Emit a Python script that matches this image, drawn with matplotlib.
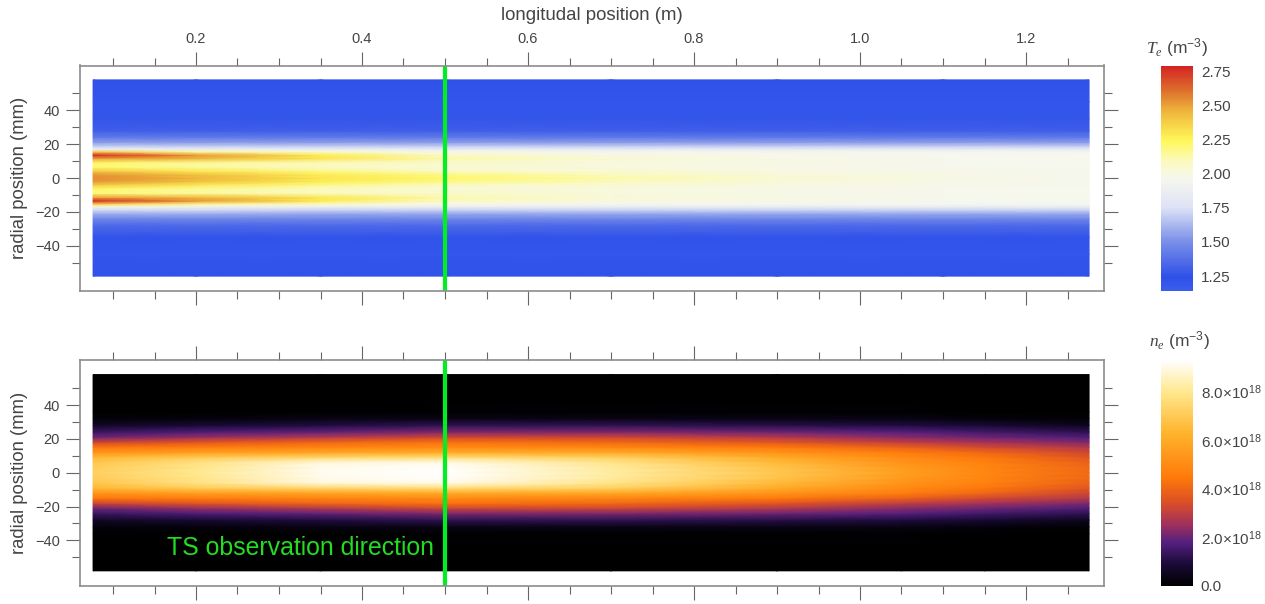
import matplotlib
matplotlib.use("Agg")

import matplotlib.pyplot as plt
import numpy as np
from matplotlib.colors import LinearSegmentedColormap, Normalize
from matplotlib.ticker import FixedLocator, MultipleLocator

W, H = 1265, 604

# longitudinal stations (m) and radial nodes (mm)
te_x = [0.076, 0.2, 0.35, 0.5, 0.7, 0.9, 1.1, 1.276]
te_r = [-58, -45, -35, -28, -24, -21, -19, -17, -15.5, -13.5, -11.5, -9, -6.5, -4, -2, 0,
        2, 4, 6.5, 9, 11.5, 13.5, 15.5, 17, 19, 21, 24, 28, 35, 45, 58]

# one row per station
te_0 = [1.23, 1.20, 1.22, 1.35, 1.47, 1.60, 1.72, 1.95, 2.35, 2.78, 2.50, 2.20, 2.22, 2.40, 2.52, 2.55,
        2.52, 2.40, 2.22, 2.22, 2.50, 2.78, 2.40, 1.90, 1.68, 1.55, 1.42, 1.30, 1.20, 1.20, 1.23]
te_1 = [1.23, 1.20, 1.22, 1.35, 1.47, 1.60, 1.72, 1.90, 2.15, 2.52, 2.45, 2.15, 2.15, 2.30, 2.42, 2.45,
        2.42, 2.30, 2.15, 2.15, 2.45, 2.52, 2.15, 1.88, 1.68, 1.55, 1.42, 1.30, 1.20, 1.20, 1.23]
te_2 = [1.23, 1.20, 1.22, 1.35, 1.47, 1.58, 1.70, 1.87, 2.05, 2.28, 2.30, 2.10, 2.08, 2.18, 2.28, 2.30,
        2.28, 2.18, 2.08, 2.10, 2.30, 2.28, 2.05, 1.87, 1.68, 1.55, 1.42, 1.30, 1.20, 1.20, 1.23]
te_3 = [1.23, 1.20, 1.22, 1.35, 1.47, 1.58, 1.70, 1.85, 1.98, 2.08, 2.12, 2.05, 2.03, 2.08, 2.18, 2.22,
        2.18, 2.08, 2.03, 2.05, 2.12, 2.08, 1.98, 1.85, 1.68, 1.55, 1.42, 1.30, 1.20, 1.20, 1.23]
te_4 = [1.23, 1.20, 1.22, 1.35, 1.47, 1.58, 1.70, 1.85, 1.95, 2.00, 2.03, 2.01, 2.01, 2.04, 2.09, 2.12,
        2.09, 2.04, 2.01, 2.01, 2.03, 2.00, 1.95, 1.85, 1.68, 1.55, 1.42, 1.30, 1.20, 1.20, 1.23]
te_5 = [1.23, 1.20, 1.22, 1.35, 1.47, 1.58, 1.70, 1.85, 1.95, 1.98, 1.99, 1.99, 1.99, 2.00, 2.02, 2.04,
        2.02, 2.00, 1.99, 1.99, 1.99, 1.98, 1.95, 1.85, 1.68, 1.55, 1.42, 1.30, 1.20, 1.20, 1.23]
te_6 = [1.23, 1.20, 1.22, 1.35, 1.47, 1.58, 1.70, 1.85, 1.95, 1.97, 1.97, 1.97, 1.97, 1.98, 1.99, 1.99,
        1.99, 1.98, 1.97, 1.97, 1.97, 1.97, 1.95, 1.85, 1.68, 1.55, 1.42, 1.30, 1.20, 1.20, 1.23]
te_7 = [1.23, 1.20, 1.22, 1.35, 1.47, 1.58, 1.70, 1.85, 1.94, 1.96, 1.96, 1.96, 1.96, 1.97, 1.97, 1.97,
        1.97, 1.97, 1.96, 1.96, 1.96, 1.96, 1.94, 1.85, 1.68, 1.55, 1.42, 1.30, 1.20, 1.20, 1.23]

# density, upper half only (10^18 m^-3), the lower half is the mirror of it
ne_x = [0.076, 0.2, 0.35, 0.5, 0.7, 0.9, 1.05, 1.15, 1.276]
ne_r = [0, 3, 6, 9, 12, 15, 18, 21, 24, 28, 32, 36, 58]
ne_0 = [7.2, 7.1, 6.9, 6.4, 5.3, 4.4, 3.2, 2.0, 1.4, 0.6, 0.15, 0.0, 0.0]
ne_1 = [8.0, 7.9, 7.8, 7.0, 5.6, 4.6, 3.6, 2.4, 1.7, 0.8, 0.2, 0.0, 0.0]
ne_2 = [9.1, 9.05, 8.9, 7.4, 5.8, 4.8, 4.0, 2.8, 1.9, 1.0, 0.3, 0.03, 0.0]
ne_3 = [9.3, 9.25, 9.0, 7.6, 6.0, 5.0, 4.3, 3.2, 2.2, 1.2, 0.35, 0.05, 0.0]
ne_4 = [8.2, 8.15, 7.9, 7.2, 5.9, 4.9, 4.1, 3.2, 2.2, 1.2, 0.35, 0.05, 0.0]
ne_5 = [6.9, 6.8, 6.5, 6.0, 5.3, 4.5, 3.6, 2.8, 2.0, 1.1, 0.35, 0.05, 0.0]
ne_6 = [5.6, 5.5, 5.3, 5.0, 4.6, 3.9, 3.0, 2.3, 1.8, 1.0, 0.3, 0.05, 0.0]
ne_7 = [4.9, 4.85, 4.7, 4.4, 4.0, 3.3, 2.6, 2.0, 1.5, 0.8, 0.2, 0.02, 0.0]
ne_8 = [4.1, 4.05, 3.9, 3.6, 3.2, 2.8, 2.2, 1.7, 1.2, 0.5, 0.1, 0.0, 0.0]

te_ticks = [1.25, 1.50, 1.75, 2.00, 2.25, 2.50, 2.75]
te_labels = ["1.25", "1.50", "1.75", "2.00", "2.25", "2.50", "2.75"]
ne_ticks = [0.0, 2.0, 4.0, 6.0, 8.0]
ne_labels = ["0.0", "2.0×10$^{18}$", "4.0×10$^{18}$", "6.0×10$^{18}$", "8.0×10$^{18}$"]

plt.rcParams["font.family"] = ["Liberation Sans", "DejaVu Sans"]
plt.rcParams["mathtext.fontset"] = "custom"
plt.rcParams["mathtext.rm"] = "Liberation Sans"
plt.rcParams["mathtext.it"] = "Liberation Serif:italic"
plt.rcParams["mathtext.default"] = "regular"

INK = "#444444"
FRAME = "#8c8c8c"
GREEN = "#00ee22"

te_cmap = LinearSegmentedColormap.from_list("te", [
    (0.00, "#3a5cee"), (0.06, "#2f50e8"), (0.22, "#7a90e8"), (0.37, "#dde2f6"), (0.50, "#f6f7ee"),
    (0.58, "#fbfabc"), (0.67, "#fff75a"), (0.80, "#eeb53a"), (0.90, "#dc6a2c"), (1.00, "#d42424")])
ne_cmap = LinearSegmentedColormap.from_list("ne", [
    (0.00, "#000000"), (0.10, "#1c0c3c"), (0.19, "#55207f"), (0.27, "#a0305c"), (0.37, "#dc4f26"),
    (0.48, "#ff7a0a"), (0.68, "#ffb52e"), (0.86, "#ffe88e"), (1.00, "#ffffff")])


def px_axes(x0, y0, x1, y1):
    return fig.add_axes([x0 / W, 1 - y1 / H, (x1 - x0) / W, (y1 - y0) / H])


def frame(ax, y_zero, y_scale, y_top, y_bot):
    ax.set_xlim(0.2 + (79.5 - 196) / 830, 0.2 + (1104 - 196) / 830)
    ax.set_ylim((y_zero - y_bot) / y_scale, (y_zero - y_top) / y_scale)
    ax.xaxis.set_major_locator(FixedLocator([0.2, 0.4, 0.6, 0.8, 1.0, 1.2]))
    ax.xaxis.set_minor_locator(MultipleLocator(0.05))
    ax.yaxis.set_major_locator(FixedLocator([-40, -20, 0, 20, 40]))
    ax.yaxis.set_minor_locator(FixedLocator([-50, -30, -10, 10, 30, 50]))
    ax.tick_params(which="major", length=10, width=0.8, color="#666666", labelcolor=INK,
                   labelsize=10.5, top=True, right=True, bottom=True, left=True, pad=4)
    ax.tick_params(which="minor", length=6, width=0.8, color="#666666", top=True, right=True,
                   bottom=True, left=True)
    ax.tick_params(axis="x", labelbottom=False)
    for s in ax.spines.values():
        s.set_color(FRAME)
        s.set_linewidth(1.2)
    ax.set_ylabel("")


def color_bar(mesh, y0, y1, ticks, labels):
    cax = px_axes(1161, y0, 1192.5, y1)
    cb = fig.colorbar(mesh, cax=cax)
    cb.outline.set_visible(False)
    cb.set_ticks(ticks, labels=labels)
    cax.tick_params(length=0, pad=6, labelsize=11, labelcolor=INK)
    return cb


fig = plt.figure(figsize=(W / 100, H / 100), dpi=100)

# top panel
ax1 = px_axes(79.5, 65.5, 1104, 291)
te = np.array([te_0, te_1, te_2, te_3, te_4, te_5, te_6, te_7]).T
m1 = ax1.pcolormesh(te_x, te_r, te, shading="gouraud", cmap=te_cmap, norm=Normalize(1.14, 2.79))
frame(ax1, 178, 1.692, 65.5, 291)
ax1.tick_params(axis="x", labeltop=True)
ax1.axvline(0.5, color=GREEN, lw=3)
color_bar(m1, 66, 291, te_ticks, te_labels)

# bottom panel
ax2 = px_axes(79.5, 360, 1104, 585.5)
half = np.array([ne_0, ne_1, ne_2, ne_3, ne_4, ne_5, ne_6, ne_7, ne_8]).T
ne = np.vstack([half[:0:-1], half])
ne_rr = [-r for r in ne_r[:0:-1]] + ne_r
m2 = ax2.pcolormesh(ne_x, ne_rr, ne, shading="gouraud", cmap=ne_cmap, norm=Normalize(0, 9.3))
frame(ax2, 472.7, 1.692, 360, 585.5)
ax2.axvline(0.5, color=GREEN, lw=3)
ax2.text(0.487, -44.3, "TS observation direction", color="#22dd22", fontsize=17.9, ha="right", va="center")
color_bar(m2, 360, 585.5, ne_ticks, ne_labels)

fig.text(592 / W, 1 - 15 / H, "longitudal position (m)", color=INK, fontsize=13.4, ha="center", va="center")
fig.text(20 / W, 1 - 178 / H, "radial position (mm)", color=INK, fontsize=13.3, rotation=90, ha="center", va="center")
fig.text(20 / W, 1 - 472.7 / H, "radial position (mm)", color=INK, fontsize=13.3, rotation=90, ha="center", va="center")
fig.text(1177 / W, 1 - 48 / H, r"$\mathit{T}_{\mathit{e}}$ (m$^{-3}$)", color=INK, fontsize=12.5, ha="center", va="center")
fig.text(1179 / W, 1 - 341 / H, r"$\mathit{n}_{\mathit{e}}$ (m$^{-3}$)", color=INK, fontsize=12.5, ha="center", va="center")

fig.savefig("out.png", dpi=100)
